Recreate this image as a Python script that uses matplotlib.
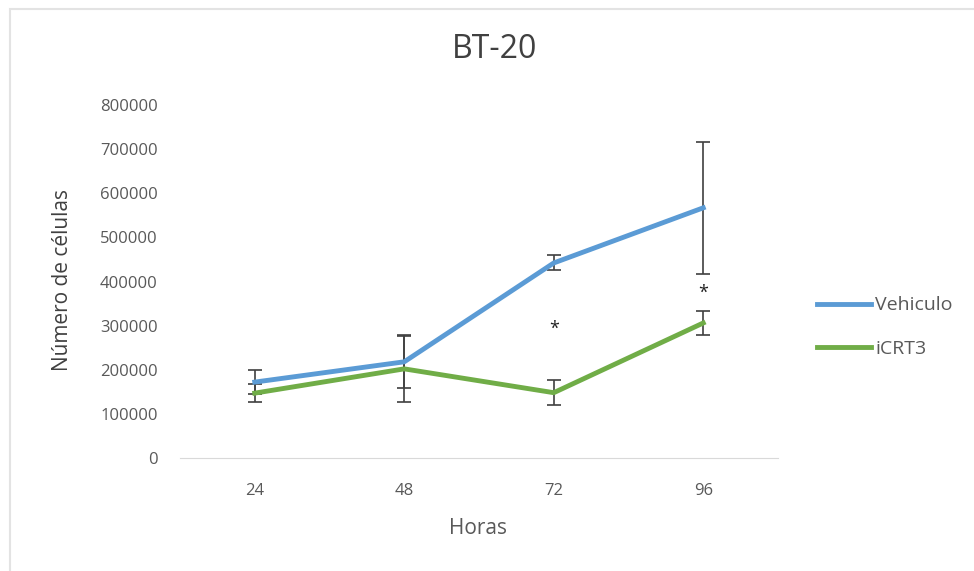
import numpy as np
from matplotlib import pyplot as plt
from matplotlib.patches import Rectangle

horas = ['24', '48', '72', '96']
vehiculo = [172000, 218000, 442000, 567000]
vehiculo_err = [28000, 60000, 17000, 150000]
icrt3 = [147000, 202000, 148000, 306000]
icrt3_err = [20000, 75000, 28000, 27000]
# significance marks: (category index, y value)
asteriscos = [(2, 292000), (3, 374000)]

plt.rcParams['font.family'] = ['Open Sans', 'DejaVu Sans']

fig = plt.figure(figsize=(9.74, 5.71), dpi=100)
# faint chart frame like the Excel chart area
fig.patches.append(Rectangle((10 / 974, -0.1), 1.2, (1 - 9 / 571) + 0.1,
                             transform=fig.transFigure, fill=False,
                             edgecolor='#E3E3E3', lw=1.5))

ax = fig.add_axes([180 / 974, 1 - 458 / 571, 598 / 974, 353 / 571])

x = np.arange(len(horas))
ax.errorbar(x, vehiculo, yerr=vehiculo_err, color='#5B9BD5', lw=3.5,
            ecolor='#404040', elinewidth=1.2, capsize=5, capthick=1.2,
            label='Vehiculo', zorder=3)
ax.errorbar(x, icrt3, yerr=icrt3_err, color='#70AD47', lw=3.5,
            ecolor='#404040', elinewidth=1.2, capsize=5, capthick=1.2,
            label='iCRT3', zorder=3)
for i, yv in asteriscos:
    ax.text(x[i], yv, '*', ha='center', va='center', fontsize=13, color='#202020')

ax.set_xlim(-0.5, 3.5)
ax.set_ylim(0, 800000)
ax.set_yticks(np.arange(0, 800001, 100000))
ax.set_xticks(x)
ax.set_xticklabels(horas)
ax.tick_params(length=0, labelsize=12, colors='#595959')
ax.tick_params(axis='x', pad=18)
ax.tick_params(axis='y', pad=16)
for s in ['top', 'right', 'left']:
    ax.spines[s].set_visible(False)
ax.spines['bottom'].set_color('#D9D9D9')

fig.text(495 / 974, 1 - 50 / 571, 'BT-20', ha='center', va='center',
         fontsize=23, color='#404040')
ax.set_xlabel('Horas', fontsize=15, color='#595959', va='center')
ax.xaxis.set_label_coords((478 - 180) / 598, (458 - 528) / 353)
ax.set_ylabel('Número de células', fontsize=15, color='#404040', va='center')
ax.yaxis.set_label_coords((62 - 180) / 598, 0.5 + (458 - 280 - 176.5) / 353)

handles, labels = ax.get_legend_handles_labels()
handles = [h[0] for h in handles]
fig.legend(handles, labels, loc='center left', bbox_to_anchor=(817 / 974, 1 - 327 / 571),
           frameon=False, fontsize=14, labelcolor='#595959', handlelength=2.8,
           labelspacing=1.3, handletextpad=0.2, borderpad=0, borderaxespad=0)

fig.savefig('out.png', dpi=100)
